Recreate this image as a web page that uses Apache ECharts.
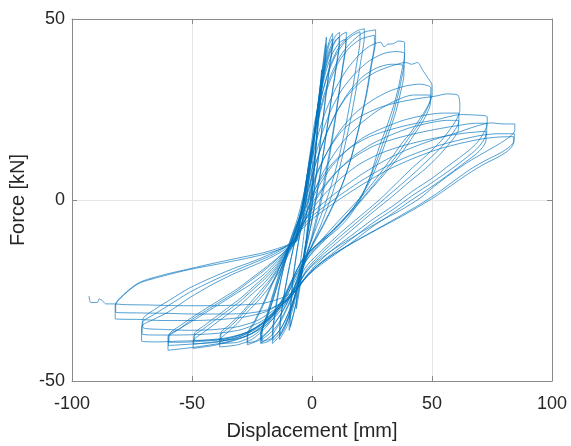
<!DOCTYPE html>
<html>
<head>
<meta charset="utf-8">
<script src="https://cdn.jsdelivr.net/npm/echarts@6/dist/echarts.min.js"></script>
<style>
html,body{margin:0;padding:0;background:#fff;}
#chart{width:571px;height:446px;}
</style>
</head>
<body>
<div id="chart"></div>
<script>
// Axis ticks
const xTicks = [-100, -50, 0, 50, 100];
const yTicks = [-50, 0, 50];

// Hysteresis loops, [displacement mm, force kN], grouped by amplitude level
const loop0 = [[0,0],[1,9],[2,19],[3,28],[4,36],[4,34],[3,26],[2,17],[0.5,5],[-1,-5],[-3,-15],[-5,-24],[-6.5,-30],[-6.5,-28],[-5.5,-21],[-4,-13],[-2.5,-5]];
const loop1 = [[-1,2],[0,8],[1,16],[2.5,26],[4,34],[5,40],[6,45],[6,43],[5,37],[3.8,29],[2.5,20],[1,10],[-0.5,0],[-2,-9],[-3.5,-17],[-5.5,-25],[-7.5,-31],[-9.5,-36],[-9.5,-34],[-9,-29],[-8,-22],[-6.5,-15],[-5,-9],[-3,-2],
  [-1.5,5],[0.5,15],[2,24],[3.5,32],[4.8,38],[5.8,43],[5.8,41],[4.8,35],[3.5,27],[2,18],[0.5,8],[-1,-2],[-2.5,-11],[-4.5,-20],[-6.5,-28],[-9,-35],[-9,-33],[-8.5,-27],[-7.5,-20],[-6,-13],[-4,-6]];
const loop2 = [[-2,2],[0,12],[1.5,21],[3,29],[4.5,36],[6,41],[7.5,44.5],[8.6,46],[8.6,43.5],[7.5,38],[6,30],[4.5,22],[3,13],[1,3],[-1,-6],[-3,-14],[-5.5,-23],[-8,-30],[-10.5,-35],[-13.5,-38.5],[-13.5,-36],[-12.5,-30],[-11,-24],[-9,-17],[-7,-11],[-5,-5],[-3,1],
  [-1,8],[0.8,17],[2.5,26],[4,33],[5.8,39],[7.2,43],[8.4,44.5],[8.4,42],[7.2,36],[5.8,29],[4.2,20],[2.5,11],[0.5,1],[-1.5,-8],[-4,-17],[-6.5,-25],[-9,-31],[-11.5,-35.5],[-13.3,-37.5],[-13.3,-35],[-12.3,-29],[-10.8,-23],[-9,-17],[-7,-11],[-5,-6]];
const loop3 = [[-3,0],[-1,9],[1,18],[2.8,27],[4.5,34],[6.5,40],[8.5,43.5],[10,45.5],[11.5,46.3],[11.5,44],[10.5,39],[9,32],[7,23],[5,14],[3,5],[0.5,-4],[-2,-12],[-5,-21],[-8,-29],[-11,-34.5],[-14,-38],[-16.5,-39.6],[-16.5,-37],[-15.5,-31],[-14,-25],[-12,-19],[-9.5,-13],[-7,-8],[-4.5,-3],
  [-2,5],[0,14],[2,23],[4,31],[6,38],[8,42],[10,44.3],[11.3,45],[11.3,42.5],[10.2,37],[8.5,30],[6.5,21],[4.5,12],[2,2],[-0.5,-7],[-3.5,-16],[-6.5,-25],[-9.5,-31.5],[-12.5,-36],[-16.2,-38.8],[-16.2,-36.5],[-15,-30],[-13.5,-24],[-11.5,-18],[-9,-12.5],[-6.5,-7.5]];
const loop4 = [[-3.5,-1],[-1.5,8],[0.5,17],[2.5,26],[4.5,33],[7,39.5],[9.5,43.5],[12,45.5],[14.3,46.4],[14.3,44],[13,38],[11.5,31],[9.5,22],[7.5,14],[5,5],[2.5,-3],[-0.5,-11],[-4,-19],[-7.5,-27],[-11,-33],[-14.5,-37],[-18,-39],[-21,-39.6],[-21,-37],[-19,-32],[-16.5,-26.5],[-14,-21],[-11.5,-16],[-9,-11],[-6,-5],
  [-3,3],[-1,12],[1,21],[3.5,29],[6,36],[8.5,40.5],[11.5,43.5],[14,44.5],[14,42],[12.7,36],[11,28],[9,19],[6.8,10],[4.3,1],[1.5,-7],[-2,-15],[-5.5,-23],[-9,-30],[-13,-35.5],[-17,-38.3],[-20.8,-39],[-20.8,-36.5],[-18.5,-31.5],[-16,-26],[-13.5,-20.5],[-10.5,-14.5],[-7.5,-8.5]];
const loop5 = [[-4,-3],[-2,6],[0,14],[2,22],[4.5,30],[7.5,37],[11,42],[15,45],[19,46.8],[21.8,47.3],[21.8,45],[20.5,39],[18.5,31],[16,22],[13,13],[10,5],[6.5,-2],[3,-8],[-1,-14],[-5,-21],[-9,-28],[-13,-33.5],[-17,-37.5],[-21.5,-39.6],[-21.5,-37.5],[-19,-33],[-16.5,-28],[-14,-22.5],[-11.5,-17],[-8.5,-11.5],[-5.5,-6],
  [-3.5,0],[-1.5,9],[0.5,17],[3,26],[6,33.5],[9.5,39.5],[13.5,43.5],[17,45.5],[20,46.5],[20,44],[18.7,38],[16.7,30],[14.2,21],[11.3,12],[8,4],[4.5,-3],[1,-9],[-3,-16],[-7,-24],[-11,-30.5],[-15.5,-35.5],[-21.3,-38.8],[-21.3,-36.5],[-18.5,-32],[-16,-27],[-13.5,-21.5],[-10.5,-15.5],[-7,-8.5]];
const loop6 = [[-4.5,-3],[-2.5,5],[-0.5,13],[2,21],[5,29],[8.5,35.5],[12.5,40.5],[17,44],[21.5,46.3],[26.5,47],[26.5,44],[25,38],[23,30],[20,21],[16.5,12],[13,5],[9,-1],[4.5,-7],[0,-12.5],[-4,-18],[-8,-25],[-12,-30.5],[-16.5,-35],[-21.5,-38.5],[-27,-40],[-27,-37.7],[-24,-34],[-21,-30],[-18,-25.5],[-15,-21],[-11.5,-15.5],[-7,-9],
  [-4,-1],[-2,7],[0.5,16],[3.5,24.5],[7,32],[11,38],[15.5,42],[20.5,44.5],[26,45.5],[26,43],[24.5,37],[22.5,29],[19.5,20],[16,11],[12.5,4],[8.5,-2],[4,-8],[-0.5,-13.5],[-4.5,-19],[-8.5,-26],[-13,-31.5],[-18,-36],[-23,-38.8],[-26.8,-39.5],[-26.8,-37],[-24,-33.5],[-21,-29.5],[-18,-25],[-14.5,-20],[-10.5,-14.5],[-7,-9]];
const loop7 = [[-5,-5],[-3,2],[-0.5,10],[2.5,18],[6,25],[10,31],[14.5,36],[19.5,40],[24,42.5],[28.6,43.6],[30,42.3],[31.5,43],[34,43.2],[36,43.9],[38.6,43.5],[38.6,40],[37.5,36],[36,31],[34,26],[31,20],[28,14.6],[24,6],[20,0],[15,-5],[9,-9],[3,-12],[-2,-15],[-6,-19],[-10,-25],[-14,-30.5],[-19,-35],[-25,-38.5],[-31,-40],[-38.5,-40.6],[-38.5,-38.8],[-35,-36.5],[-31,-34],[-27,-31],[-22,-27.5],[-17.7,-24],[-13,-19],[-9,-14],[-6,-10],
  [-5,-6],[-2.5,2],[0.5,10],[4,18],[8,25],[12.5,30.5],[18,35],[24,38.5],[30,40.5],[35,41],[38.5,40.5],[38.5,38],[37.3,33.5],[35.5,28],[33,22],[30,16.5],[26.5,10],[22,3],[17,-2.5],[11,-7],[5,-10.5],[0,-13.5],[-4.5,-17],[-8.5,-22.5],[-13,-28.5],[-18.5,-34],[-24.5,-37.5],[-31,-39.3],[-38.3,-39.6],[-38.3,-37.5],[-35,-35.5],[-31,-33],[-27,-30],[-22,-26.5],[-18,-23],[-13.5,-18.5],[-9.5,-14],[-6.5,-10.5],
  [-4.5,-5.5],[-1.5,2.5],[1.5,10],[5.5,17.5],[10,24],[15,29.5],[21,34],[27,36.5],[33,37.5],[38.3,37],[38.3,34.5],[37,30],[35,24.5],[32,18.5],[28.5,12],[24,5],[19,-0.5],[13,-5.5],[7,-9.5],[1,-13],[-4,-16.5],[-8,-21.5],[-12.5,-27.5],[-18,-33],[-24,-36.5],[-31,-38.3],[-38,-38.8],[-38,-36.8],[-34.5,-34.5],[-30.5,-32],[-26.5,-29],[-22,-25.5],[-17.5,-22],[-13,-17.5],[-9,-13.5],[-6,-10.5]];
const loop8 = [[-5,-6],[-2,2],[1.5,10],[5.5,17.5],[10,24],[15,29],[21,33],[27,35.5],[33,37],[39,38],[41.5,37.5],[44,38],[46,36],[48,34],[50,31.7],[50,29],[49,27],[47,24.5],[44,21.5],[41,18.5],[37.8,16],[33,11.5],[28,7],[22,2],[15,-3],[8,-8],[2,-12.5],[-3,-16.5],[-7,-21],[-10,-26],[-14,-30],[-20,-34.5],[-27,-37.5],[-35,-39.3],[-42,-40.3],[-49.5,-41],[-49.5,-39],[-45,-36.5],[-40,-34],[-35,-31.5],[-30,-29],[-25,-26],[-20,-23],[-15,-19],[-10.5,-14.5],[-7,-11],
  [-4.5,-7],[-1.5,0],[2,7],[6.5,13.5],[12,19.5],[18,24],[25,27.5],[32,30],[39,31.5],[45,32],[49.5,31],[49.5,28],[48.5,26],[46.5,23.3],[43.5,20],[40,16.8],[36,13],[31,8.5],[25.5,4],[19,-1],[12,-6],[5.5,-10.5],[0,-14.5],[-4.5,-18.5],[-8.5,-23],[-13,-28.5],[-19,-33],[-26,-36.5],[-34,-38.5],[-42,-39.3],[-49.3,-39.8],[-49.3,-37.8],[-45,-35.5],[-40,-33],[-35,-30.5],[-30,-28],[-25,-25],[-20,-22],[-15,-18.5],[-10.5,-14],[-6.5,-10.5],
  [-4,-7.5],[-1,-1],[3,5.5],[8,11.5],[14,17],[21,21.5],[28,25],[35,27.5],[42,29],[49.3,29],[49.3,26.5],[48.3,24.5],[46,21.5],[43,18.5],[39.5,15],[35,11],[30,7],[24,2.5],[17.5,-2.5],[10.5,-7.5],[4,-12],[-1,-15.5],[-5,-19.5],[-8.5,-24],[-13.5,-29],[-20,-33.5],[-27,-36.5],[-35,-38],[-42.5,-38.6],[-49,-38.8],[-49,-37],[-44.5,-34.5],[-39.5,-32],[-34.5,-29.5],[-29.5,-27],[-24.5,-24],[-19.5,-21],[-14.5,-17.5],[-10,-13.5],[-6,-11]];
const loop9 = [[-5.5,-7],[-2,0],[2,7.5],[7,14],[13,19.5],[20,23],[28,25.5],[36,27],[44,28],[51.5,28.7],[56,29.3],[60.7,29],[61.6,26.5],[61.6,24.7],[60,22],[57.5,19.5],[54,16.5],[48,12.5],[42,9],[35,4.5],[28,0],[20,-4.5],[12,-9],[4,-14],[-2,-18],[-6.5,-23],[-12.5,-30],[-19,-34.5],[-27,-37.5],[-36,-39.3],[-45,-40.3],[-53,-41],[-60,-41.5],[-60,-37.7],[-55,-35.5],[-50,-33.5],[-44,-31],[-38,-28.5],[-32,-26],[-26,-23.5],[-20,-20.5],[-14,-16.5],[-9,-12.5],
  [-5,-8],[-1.5,-2],[3,4],[8.5,9.5],[15,14],[22,17.5],[30,20],[38,22],[46,23.3],[54,24],[61.2,24],[61.2,21.5],[59.7,19.5],[57,17],[53,14],[47.5,10.5],[41,6.5],[34,2.5],[27,-1.5],[19,-6],[11,-10.5],[3.5,-15],[-2,-19],[-6,-23.5],[-10.5,-27.5],[-16,-31.5],[-23,-35.5],[-31,-38],[-40,-39.3],[-50,-39.8],[-59.8,-40.2],[-59.8,-38],[-55,-35.5],[-50,-33],[-44,-30.5],[-38,-28],[-32,-25.5],[-26,-22.5],[-20,-19.5],[-14,-16],[-8.5,-12],
  [-5,-8.5],[-1,-3],[4,2.5],[10,7.5],[17,12],[25,15.5],[33,18],[41,20],[49,21.3],[56,22],[61,22],[61,19.5],[59.5,17.5],[56.5,15],[52.5,12],[47,8.5],[40.5,5],[33.5,1],[26,-3],[18,-7.5],[10,-12],[3,-16],[-2,-19.5],[-6.5,-24],[-12,-28.5],[-18.5,-33],[-26,-36.3],[-35,-38.3],[-45,-39],[-55,-39.3],[-59.6,-39.3],[-59.6,-37.3],[-54.5,-34.5],[-49,-32],[-43,-29.5],[-37,-27],[-31,-24.5],[-25,-21.5],[-19,-18.5],[-13.5,-15.5],[-8,-12]];
const loop10 = [[-6,-7.5],[-2,-1],[3,5],[9,10.5],[16,14.5],[24,17.5],[33,19.5],[42,21],[52,22.2],[62,23.6],[67,23.5],[73,23],[73,21],[71.5,18.5],[69,16],[65,13.5],[58,10],[50,6],[42,2.5],[34,-1.5],[25,-5.5],[16,-10],[8,-14],[1.5,-18],[-3,-21.5],[-7.5,-25.5],[-12.5,-29.5],[-19,-33.5],[-27,-36.5],[-36,-38.3],[-46,-38.8],[-56,-39],[-64,-39.2],[-71,-39],[-71,-35],[-66,-33],[-60,-31],[-51,-27],[-42,-23.5],[-33,-20.5],[-24,-18],[-16,-15.5],[-9,-12.5],
  [-5.5,-8],[-1.5,-2.5],[4,3],[10.5,8],[18,12],[26,15],[35,17],[44,18.5],[53,19.7],[62,20.7],[68,21.2],[72.8,21.2],[72.8,18.5],[71.3,16.3],[68.5,14],[64.5,11.8],[58,8.5],[50,4.8],[42,1.3],[34,-2.5],[25,-6.5],[16,-11],[8,-15],[1.5,-18.5],[-3.5,-22],[-8,-26],[-14,-30],[-21,-33.5],[-29.5,-35.8],[-39,-36.8],[-49,-37.2],[-58,-37.3],[-64.5,-37.3],[-70.8,-37],[-70.8,-34],[-65.5,-31.5],[-59.5,-29],[-51,-25.5],[-42,-22.5],[-33,-19.8],[-24,-17.3],[-16,-15],[-9,-12],
  [-5.5,-8.5],[-1,-3.5],[5,1.5],[12,6],[20,10],[29,13],[38,15],[47,16.5],[56,17.7],[64,18.5],[72.5,19],[72.5,16.5],[71,14.5],[68,12.5],[64,10.5],[57.5,7.3],[49.5,3.5],[41.5,0],[33.5,-3.7],[24.5,-7.7],[16,-12],[8,-15.8],[1.5,-19],[-4,-22.5],[-8.5,-26.5],[-15,-30],[-22.5,-33.2],[-31,-35],[-41,-35.8],[-51,-36],[-60,-35.8],[-70.5,-35.2],[-70.5,-33],[-65,-30],[-59,-27.5],[-51,-24.3],[-42,-21.5],[-33,-19],[-24,-16.8],[-16,-14.5],[-9,-11.8]];
const loop11 = [[-6,-8],[0,-3.5],[10,2],[20,6.8],[30,10.8],[40,14],[50,16.5],[60,18.5],[68,20.3],[74.5,21.3],[80,21],[84.5,21],[84.5,19.2],[82.5,17.5],[78,15.5],[72,13.2],[65,10.5],[58,7.3],[51,3.8],[45,0.5],[37,-2.8],[28,-6],[19,-9.5],[10,-13.2],[3,-16.5],[-2.5,-20],[-7,-24.5],[-12,-28],[-19,-30.8],[-28,-32.3],[-38,-33],[-50,-33.3],[-62,-33.3],[-72,-33],[-82,-32.8],[-82,-29.3],[-78,-26],[-72,-23],[-62,-21],[-51,-19.2],[-40,-17.8],[-30,-16.5],[-20,-15],[-12,-13.3],[-7,-11.5],
  [-6,-9],[0,-4.5],[10.5,0.8],[21,5.5],[31,9.3],[41,12.3],[51,14.7],[61,16.5],[70,17.8],[77,18.3],[84.3,18.3],[84.3,16.5],[82.5,14.8],[78.5,13],[72.5,11],[66,8.5],[59,5.2],[52,1.8],[45,-1.2],[37,-4.3],[28.5,-7.5],[19.5,-10.8],[10.5,-14.3],[3.5,-17.5],[-1.5,-20.5],[-6.5,-25],[-11.5,-28],[-18.5,-30.3],[-27,-31.3],[-37,-31.5],[-49,-31.5],[-61,-31.3],[-72,-31.2],[-81.8,-31],[-81.8,-28.8],[-78,-25.8],[-72,-22.8],[-62,-20.7],[-51,-19],[-40.5,-17.4],[-30.5,-16],[-20.5,-14.6],[-12.5,-13],[-6.5,-11.3]];
const loop12 = [[-6,-9.5],[0,-5.3],[11,0],[21.5,4.5],[31.5,8.3],[41.5,11.3],[51.5,13.8],[61.5,15.6],[71,16.9],[78,17.4],[84,17.5],[84,15.8],[82,13.8],[78,12],[72,10],[65,7.2],[58,4],[51,0.8],[44,-2],[36,-5],[27,-8.2],[18,-11.5],[9.5,-14.8],[3,-17.8],[-2,-21],[-7,-25],[-12.5,-27],[-20,-28.5],[-30,-29],[-42,-29.2],[-55,-29.2],[-68,-29],[-78,-28.9],[-83,-28.7]];
const tail = [[-85.9,-28.7],[-87.3,-27.8],[-88.7,-27.3],[-89.4,-28.3],[-92.2,-28.3],[-92.9,-26.5]];

const levels = [loop0, loop1, loop2, loop3, loop4, loop5, loop6, loop7, loop8, loop9, loop10, loop11, loop12, tail];
const curve = [].concat(...levels);

const chart = echarts.init(document.getElementById('chart'), null, {renderer: 'canvas'});
const font = '"Liberation Sans", Arial, Helvetica, sans-serif';
const axisGray = '#8a8a8a';
const gridGray = '#e6e6e6';

const baseAxis = {
  type: 'value',
  axisLine: {show: true, onZero: false, lineStyle: {color: axisGray, width: 1}},
  axisTick: {show: true, inside: true, length: 5, lineStyle: {color: axisGray}},
  splitLine: {show: false},
  axisLabel: {show: false}
};

chart.setOption({
  animation: false,
  backgroundColor: '#ffffff',
  grid: {left: 72, right: 19, top: 19, bottom: 58, containLabel: false},
  xAxis: [
    Object.assign({}, baseAxis, {
      min: xTicks[0], max: xTicks[xTicks.length - 1], interval: 50, position: 'bottom',
      splitLine: {show: true, lineStyle: {color: gridGray, width: 1}},
      axisLabel: {show: true, color: '#262626', fontSize: 18, fontFamily: font, margin: 14},
      name: 'Displacement [mm]', nameLocation: 'middle', nameGap: 40,
      nameTextStyle: {color: '#262626', fontSize: 20, fontFamily: font}
    }),
    Object.assign({}, baseAxis, {
      min: xTicks[0], max: xTicks[xTicks.length - 1], interval: 50, position: 'top'
    })
  ],
  yAxis: [
    Object.assign({}, baseAxis, {
      min: yTicks[0], max: yTicks[yTicks.length - 1], interval: 50, position: 'left',
      splitLine: {show: true, lineStyle: {color: gridGray, width: 1}},
      axisLabel: {show: true, color: '#262626', fontSize: 18, fontFamily: font, margin: 7},
      name: 'Force [kN]', nameLocation: 'middle', nameGap: 38, nameRotate: 90,
      nameTextStyle: {color: '#262626', fontSize: 20, fontFamily: font}
    }),
    Object.assign({}, baseAxis, {
      min: yTicks[0], max: yTicks[yTicks.length - 1], interval: 50, position: 'right'
    })
  ],
  series: [{
    type: 'line',
    data: curve,
    xAxisIndex: 0,
    yAxisIndex: 0,
    showSymbol: false,
    smooth: 0.25,
    clip: true,
    lineStyle: {color: '#0072BD', width: 0.8, opacity: 0.85}
  }]
});
</script>
</body>
</html>
